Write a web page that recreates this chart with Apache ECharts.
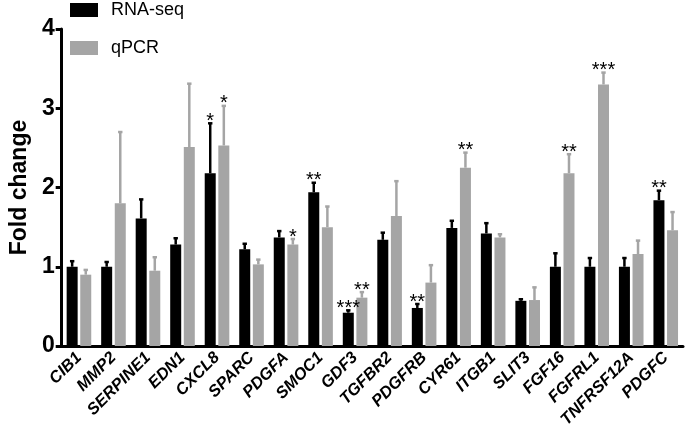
<!DOCTYPE html>
<html>
<head>
<meta charset="utf-8">
<script src="https://cdn.jsdelivr.net/npm/echarts@6/dist/echarts.min.js"></script>
<style>
  html, body { margin: 0; padding: 0; background: #fff; }
  #chart { width: 685px; height: 439px; }
</style>
</head>
<body>
<div id="chart"></div>
<script>
const genes = ['CIB1', 'MMP2', 'SERPINE1', 'EDN1', 'CXCL8', 'SPARC', 'PDGFA', 'SMOC1', 'GDF3',
  'TGFBR2', 'PDGFRB', 'CYR61', 'ITGB1', 'SLIT3', 'FGF16', 'FGFRL1', 'TNFRSF12A', 'PDGFC'];
const rnaSeq = [1.00, 1.00, 1.61, 1.28, 2.18, 1.22, 1.37, 1.94, 0.42, 1.34, 0.48, 1.49, 1.42, 0.57, 1.00, 1.00, 1.00, 1.84];
const rnaSeqErr = [0.07, 0.06, 0.24, 0.08, 0.63, 0.07, 0.08, 0.12, 0.03, 0.09, 0.05, 0.09, 0.13, 0.02, 0.17, 0.11, 0.11, 0.12];
const rnaSeqSig = ['', '', '', '', '*', '', '', '**', '***', '', '**', '', '', '', '', '', '', '**'];
const qpcr = [0.90, 1.80, 0.95, 2.51, 2.53, 1.03, 1.28, 1.50, 0.61, 1.64, 0.80, 2.25, 1.37, 0.58, 2.18, 3.30, 1.16, 1.46];
const qpcrErr = [0.06, 0.90, 0.17, 0.80, 0.50, 0.06, 0.07, 0.26, 0.07, 0.44, 0.22, 0.19, 0.04, 0.16, 0.24, 0.15, 0.17, 0.23];
const qpcrSig = ['', '', '', '', '*', '', '*', '', '**', '', '', '**', '', '', '**', '***', '', ''];
const yTicks = [0, 1, 2, 3, 4];

const FONT = 'Liberation Sans, Arial, sans-serif';
const BLACK = '#000000';
const GREY = '#a5a5a5';
const BAR_W = 11;
const GAP = 2.6;

// error bar + significance stars for one series
function errorRenderer(vals, errs, sigs, color, side) {
  return function (params, api) {
    const i = api.value(0);
    const base = api.coord([i, vals[i]]);
    const top = api.coord([i, vals[i] + errs[i]]);
    const x = base[0] + side * (BAR_W + GAP) / 2;
    const children = [
      { type: 'line', shape: { x1: x, y1: base[1], x2: x, y2: top[1] },
        style: { stroke: color, lineWidth: 2.5 } },
      { type: 'line', shape: { x1: x - 2.2, y1: top[1], x2: x + 2.2, y2: top[1] },
        style: { stroke: color, lineWidth: 2.5 } }
    ];
    if (sigs[i]) {
      children.push({ type: 'text', x: x, y: top[1] + 8,
        style: { text: sigs[i], fill: '#000', font: '20px ' + FONT,
          align: 'center', verticalAlign: 'bottom' } });
    }
    return { type: 'group', children: children };
  };
}

const chart = echarts.init(document.getElementById('chart'));
chart.setOption({
  animation: false,
  textStyle: { fontFamily: FONT },
  grid: { left: 52, right: 2, top: 29, bottom: 93, containLabel: false },
  legend: {
    data: ['RNA-seq', 'qPCR'],
    orient: 'vertical',
    left: 65,
    top: -4,
    itemWidth: 28,
    itemHeight: 14,
    itemGap: 20,
    icon: 'rect',
    textStyle: { fontSize: 18, color: '#000', fontFamily: FONT, padding: [0, 0, 0, 8] }
  },
  xAxis: {
    type: 'category',
    data: genes,
    axisLine: { lineStyle: { color: '#000', width: 3 } },
    axisTick: { alignWithLabel: true, length: 6, lineStyle: { color: '#000', width: 3 } },
    axisLabel: {
      rotate: 45, margin: 9, interval: 0, color: '#000',
      fontSize: 16.5, fontWeight: 'bold', fontStyle: 'italic', fontFamily: FONT
    }
  },
  yAxis: {
    type: 'value',
    min: yTicks[0],
    max: yTicks[yTicks.length - 1],
    interval: 1,
    name: 'Fold change',
    nameLocation: 'middle',
    nameGap: 27,
    nameTextStyle: { fontSize: 23, fontWeight: 'bold', color: '#000', fontFamily: FONT },
    axisLine: { show: true, lineStyle: { color: '#000', width: 3 } },
    axisTick: { show: true, length: 6, lineStyle: { color: '#000', width: 3 } },
    axisLabel: { margin: 7, fontSize: 23, fontWeight: 'bold', color: '#000', fontFamily: FONT },
    splitLine: { show: false }
  },
  series: [
    {
      name: 'RNA-seq', type: 'bar', data: rnaSeq, barWidth: BAR_W, barGap: (GAP / BAR_W * 100) + '%',
      itemStyle: { color: BLACK }
    },
    {
      name: 'qPCR', type: 'bar', data: qpcr, barWidth: BAR_W,
      itemStyle: { color: GREY }
    },
    {
      type: 'custom', z: 5, data: genes.map((g, i) => [i]),
      renderItem: errorRenderer(rnaSeq, rnaSeqErr, rnaSeqSig, BLACK, -1)
    },
    {
      type: 'custom', z: 5, data: genes.map((g, i) => [i]),
      renderItem: errorRenderer(qpcr, qpcrErr, qpcrSig, GREY, 1)
    }
  ]
});
</script>
</body>
</html>
